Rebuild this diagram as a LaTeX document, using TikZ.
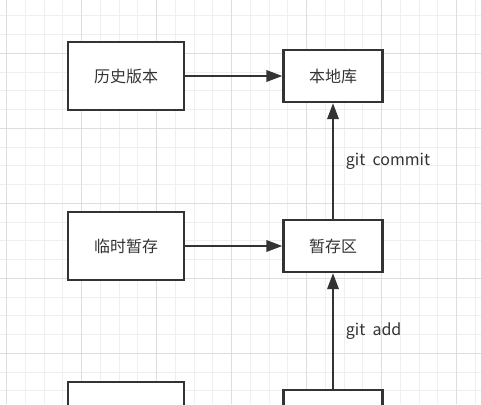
\documentclass[tikz,border=0pt]{standalone}
\usepackage{fontspec}
\newfontfamily\cjk{Noto Sans CJK SC}
\usetikzlibrary{arrows.meta}

\definecolor{ink}{HTML}{333333}
\definecolor{gridminor}{HTML}{EFEFEF}
\definecolor{gridmajor}{HTML}{DEDEDE}

\tikzset{
    areabox/.style={draw=ink, line width=1.7pt, fill=white, inner sep=0pt,
        font=\cjk\fontsize{12pt}{14pt}\selectfont, text=ink},
    widebox/.style={areabox, minimum width=87pt, minimum height=51pt},
    narrowbox/.style={areabox, minimum width=74.25pt, minimum height=39pt},
    flow/.style={draw=ink, line width=1.7pt, -{Triangle[length=12pt, width=8.5pt]}},
    cmdlabel/.style={font=\cjk\fontsize{12pt}{14pt}\selectfont, text=ink}
}

\begin{document}
\begin{tikzpicture}[x=0.75pt, y=-0.75pt]

    \useasboundingbox (0,0) rectangle (481,404);
    \clip (0,0) rectangle (481,404);

    % Raster
    \fill[white] (0,0) rectangle (481,404);
    \foreach \k in {0,...,25} {
        \draw[gridminor, line width=0.75pt] ({6.7+18.75*\k},0) -- ++(0,404);
        \draw[gridminor, line width=0.75pt] (0,{-3+18.75*\k}) -- ++(481,0);
    }
    \foreach \k in {0,...,6} {
        \draw[gridmajor, line width=0.75pt] ({6.7+75*\k},0) -- ++(0,404);
        \draw[gridmajor, line width=0.75pt] (0,{53.3+75*(\k-1)}) -- ++(481,0);
    }

    % Bereiche
    \node[widebox] (history) at (126,76) {历史版本};
    \node[narrowbox] (repo) at (333,76) {本地库};

    \node[widebox] (temp) at (126,246) {临时暂存};
    \node[narrowbox] (stage) at (333,246) {暂存区};

    \node[widebox] (worklow) at (126,416) {};
    \node[narrowbox] (workdir) at (333,416) {};

    % Pfeile
    \draw[flow] (history) -- (repo);
    \draw[flow] (temp) -- (stage);

    \draw[flow] (stage) -- (repo)
        node[midway, cmdlabel, right=5.5pt] {git\ \ commit};
    \draw[flow] (workdir) -- (stage)
        node[midway, cmdlabel, right=5.5pt] {git\ \ add};

\end{tikzpicture}
\end{document}
